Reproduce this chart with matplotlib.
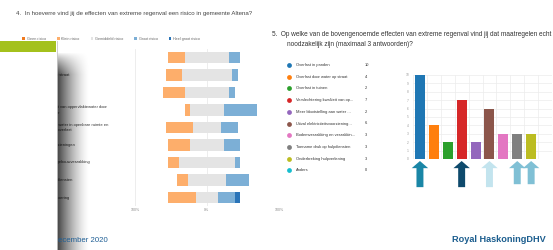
import numpy as np
import matplotlib
matplotlib.use("Agg")
import matplotlib.pyplot as plt
from matplotlib.patches import Rectangle, FancyArrow, Patch
from matplotlib.transforms import blended_transform_factory

# ---------------- data ----------------
# Left chart (question 4): share of respondents per risk level (%)
risk_levels = ["Geen risico", "Klein risico", "Gemiddeld risico", "Groot risico", "Heel groot risico"]
risk_colors = ["#f07a1f", "#fdae6b", "#e4e4e4", "#7cafd6", "#2a74b8"]
effects_left = [
    "Overlast in panden",
    "Overlast door water op straat",
    "Overlast in tuinen",
    "Verslechtering kwaliteit van oppervlaktewater door\noverstort van rioolwater",
    "Meer blootstelling aan water in openbare ruimte en\nschade aan tuinen en overlast",
    "Uitval elektriciteitsvoorzieningen",
    "Bodemverzakking en gebouwverzakking",
    "Toename druk op hulpdiensten",
    "Onderbreking bedrijfsvoering",
]
geen = [0, 0, 0, 0, 0, 0, 0, 0, 0]
klein = [23, 23, 31, 8, 38, 31, 15, 15, 38]
gemiddeld = [62, 69, 61, 46, 39, 46, 77, 54, 31]
groot = [15, 8, 8, 46, 23, 23, 8, 31, 23]
heel_groot = [0, 0, 0, 0, 0, 0, 0, 0, 8]
left_ticks = [-100, 0, 100]
left_ticklabels = ["100%", "0%", "100%"]

# Right chart (question 5): number of answers
effects_right = [
    "Overlast in panden",
    "Overlast door water op straat",
    "Overlast in tuinen",
    "Verslechtering kwaliteit van op...",
    "Meer blootstelling aan water ...",
    "Uitval elektriciteitsvoorziening...",
    "Bodemverzakking en verzakkin...",
    "Toename druk op hulpdiensten",
    "Onderbreking hulpverlening",
    "Anders",
]
answers = [10, 4, 2, 7, 2, 6, 3, 3, 3, 0]
right_colors = ["#1f77b4", "#ff7f0e", "#2ca02c", "#d62728", "#9467bd",
                "#8c564b", "#e377c2", "#7f7f7f", "#bcbd22", "#17becf"]
arrow_idx = [0, 3, 5, 7, 8]
arrow_colors = ["#1a86a6", "#0e4a6c", "#c3e4ee", "#80c0d5", "#80c0d5"]

title4 = "4.  In hoeverre vind jij de effecten van extreme regenval een risico in gemeente Altena?"
title5a = "5.  Op welke van de bovengenoemde effecten van extreme regenval vind jij dat maatregelen echt"
title5b = "noodzakelijk zijn (maximaal 3 antwoorden)?"

W, H = 553, 250
FONT = "Liberation Sans"
plt.rcParams["font.family"] = [FONT, "DejaVu Sans"]

fig = plt.figure(figsize=(W / 100, H / 100), dpi=100)
fig.patch.set_facecolor("white")


def px_axes(x0, y0, x1, y1):
    return fig.add_axes([x0 / W, 1 - y1 / H, (x1 - x0) / W, (y1 - y0) / H])


# ---------------- left diverging chart ----------------
n = len(effects_left)
axl = px_axes(135, 48.75, 279, 206.25)
axl.set_xlim(-100, 100)
axl.set_ylim(n - 0.5, -0.5)
y = np.arange(n)
g = np.array(geen, float)
k = np.array(klein, float)
m = np.array(gemiddeld, float)
gr = np.array(groot, float)
hg = np.array(heel_groot, float)
start = -m / 2 - k - g
segs = [g, k, m, gr, hg]
left = start.copy()
for vals, col in zip(segs, risk_colors):
    axl.barh(y, vals, left=left, height=0.66, color=col, edgecolor="none", zorder=3)
    left = left + vals
for xv in (-100, 0):
    axl.axvline(xv, color="#eaeaea", lw=0.6, zorder=1)
axl.axvline(100, ymin=0, ymax=0.22, color="#dddddd", lw=0.6, zorder=1)
axl.set_xticks(left_ticks)
axl.set_xticklabels(left_ticklabels, fontsize=2.6, color="#888888")
axl.tick_params(axis="x", length=0, pad=1.2)
axl.set_yticks([])
for s in axl.spines.values():
    s.set_visible(False)

# legend of left chart
handles = [Patch(facecolor=c, edgecolor="none") for c in risk_colors]
fig.legend(handles, risk_levels, loc="center left", bbox_to_anchor=(19 / W, 1 - 39 / H),
           ncol=5, frameon=False, fontsize=2.7, handlelength=0.7, handleheight=0.7,
           handletextpad=0.5, columnspacing=2.9, labelcolor="#666666")

# ---------------- right bar chart ----------------
axr = px_axes(413, 75, 552, 159)
nr = len(answers)
xr = np.arange(nr)
axr.bar(xr, answers, width=0.72, color=right_colors, zorder=3)
axr.set_xlim(-0.5, nr - 0.5)
axr.set_ylim(0, 10)
axr.set_yticks(range(0, 11))
axr.set_yticklabels([str(v) for v in range(0, 11)], fontsize=2.3, color="#999999")
axr.tick_params(axis="y", length=0, pad=3)
axr.set_xticks(np.arange(-0.5, nr, 1.0))
axr.tick_params(axis="x", length=0, labelbottom=False)
axr.grid(True, color="#ececec", lw=0.5, zorder=0)
for s in axr.spines.values():
    s.set_visible(False)
axr.axhline(0, color="#dddddd", lw=0.6, zorder=2)

# arrows under selected bars (data coords, below axis)
for i, col in zip(arrow_idx, arrow_colors):
    bottom = -3.35 if i < 7 else -3.0
    axr.add_patch(FancyArrow(xr[i], bottom, 0, bottom * -1 - 0.24, width=0.5, head_width=1.18,
                             head_length=0.85, length_includes_head=True, color=col,
                             lw=0, clip_on=False, zorder=5))

# ---------------- overlay (slide decorations) ----------------
ov = fig.add_axes([0, 0, 1, 1])
ov.set_zorder(10)
ov.patch.set_visible(False)

# category labels of left chart (partly hidden under the card)
trans = blended_transform_factory(ov.transData, axl.transData)
for i, lab in enumerate(effects_left):
    axl.text(18, i, lab, transform=trans, fontsize=2.9, color="#333333",
             ha="left", va="center", linespacing=1.5, clip_on=False, zorder=1)

# shadow gradient
sx0, sx1, sy0, sy1 = 57, 90, 52, 250
nx, ny = 80, 200
tx = np.linspace(0, 1, nx)
ty = np.linspace(sy0, sy1, ny)
ax_a = 0.75 * (1 - tx) ** 1.5
ay_a = np.clip((ty - sy0) / 22.0, 0, 1) ** 0.8
alpha = ay_a[:, None] * ax_a[None, :]
rgba = np.zeros((ny, nx, 4))
rgba[..., 3] = alpha
ov.imshow(rgba, extent=(sx0, sx1, sy1, sy0), aspect="auto", interpolation="bilinear", zorder=6)

# white card with green header
ov.add_patch(Rectangle((0, 41), 56.5, 209, facecolor="white", edgecolor="none", zorder=7))
ov.plot([56.6, 56.6], [41, 250], color="#c8c8c8", lw=0.6, zorder=8)
ov.add_patch(Rectangle((0, 41), 56, 11, facecolor="#a4c11c", edgecolor="none", zorder=8))

# titles
ov.text(16, 13, title4, fontsize=4.4, color="#444444", ha="left", va="center", zorder=9)
ov.text(272, 34.5, title5a, fontsize=4.7, color="#333333", ha="left", va="center", zorder=9)
ov.text(287, 44, title5b, fontsize=4.7, color="#333333", ha="left", va="center", zorder=9)

# right legend list
for i, (lab, val, col) in enumerate(zip(effects_right, answers, right_colors)):
    yy = 65 + 11.7 * i
    ov.scatter([289], [yy], s=12, color=col, marker="o", lw=0, zorder=9)
    ov.text(296, yy, lab, fontsize=2.9, color="#333333", ha="left", va="center", zorder=9)
    ov.text(365, yy, str(val), fontsize=2.9, color="#333333", ha="left", va="center", zorder=9)

# footer
ov.text(58, 241, "ecember 2020", fontsize=5.6, color="#1f5f95", ha="left", va="center", zorder=9)
ov.text(546, 240, "Royal HaskoningDHV", fontsize=6.6, fontweight="bold", color="#1b5d8e",
        ha="right", va="center", zorder=9)

ov.set_xlim(0, W)
ov.set_ylim(H, 0)
ov.axis("off")

fig.savefig("out.png", dpi=100)
